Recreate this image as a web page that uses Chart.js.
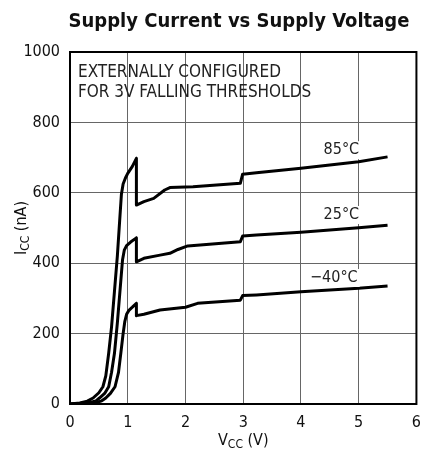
<!DOCTYPE html>
<html>
<head>
<meta charset="utf-8">
<script src="https://cdn.jsdelivr.net/npm/chart.js@4"></script>
<style>
  body { margin: 0; background: #fff; }
  #wrap { width: 430px; height: 462px; }
</style>
</head>
<body>
<div id="wrap"><canvas id="chart" width="430" height="462"></canvas></div>
<script>
// supply voltage (V) and supply current (nA)
const v85 = [0, 0.17, 0.30, 0.40, 0.50, 0.57, 0.62, 0.67, 0.72, 0.77, 0.82, 0.86, 0.89, 0.92, 0.96, 1.0, 1.08, 1.15, 1.15, 1.28, 1.45, 1.64, 1.73, 2.13, 2.95, 2.99, 3.23, 4.0, 5.0, 5.5];
const i85 = [0, 3, 8, 17, 32, 49, 80, 144, 220, 320, 420, 520, 595, 625, 642, 655, 675, 698, 565, 575, 584, 608, 615, 617, 627, 653, 657, 670, 688, 702];

const v25 = [0, 0.31, 0.45, 0.51, 0.60, 0.67, 0.72, 0.77, 0.82, 0.87, 0.91, 0.94, 0.98, 1.05, 1.15, 1.15, 1.28, 1.56, 1.73, 1.87, 2.04, 2.95, 2.99, 3.23, 4.0, 5.0, 5.5];
const i25 = [0, 3, 9, 17, 30, 49, 90, 144, 230, 330, 410, 437, 450, 460, 472, 404, 414, 423, 428, 439, 449, 461, 477, 480, 488, 501, 508];

const vM40 = [0, 0.43, 0.55, 0.62, 0.70, 0.78, 0.84, 0.88, 0.92, 0.95, 0.98, 1.02, 1.08, 1.15, 1.15, 1.28, 1.56, 1.84, 2.0, 2.21, 2.95, 2.99, 3.23, 4.0, 5.0, 5.5];
const iM40 = [0, 3, 9, 17, 30, 49, 90, 144, 200, 235, 255, 266, 275, 286, 251, 255, 267, 272, 275, 286, 295, 308, 310, 319, 329, 335];

const xTicks = [0, 1, 2, 3, 4, 5, 6];
const yTicks = [0, 200, 400, 600, 800, 1000];

const seriesNames = ["85°C", "25°C", "\u221240°C"];
const labelAt = [[4.7, 721], [4.7, 537], [4.57, 358]];
const noteLines = ["EXTERNALLY CONFIGURED", "FOR 3V FALLING THRESHOLDS"];

const FONT = "'Liberation Sans Narrow', 'DejaVu Sans Condensed', 'Liberation Sans', Arial, sans-serif";

function pts(xs, ys) {
  return xs.map((x, i) => ({ x: x, y: ys[i] }));
}

function lineSet(label, xs, ys) {
  return {
    label: label,
    data: pts(xs, ys),
    showLine: true,
    borderColor: "#000",
    borderWidth: 3,
    borderJoinStyle: "round",
    pointRadius: 0,
    tension: 0,
    fill: false,
  };
}

const textPlugin = {
  id: "texts",
  afterDraw(chart) {
    const c = chart.ctx;
    const xs = chart.scales.x;
    const ys = chart.scales.y;
    const area = chart.chartArea;
    c.save();
    c.fillStyle = "#111";

    // title
    c.font = "bold 20px " + FONT;
    c.textAlign = "center";
    c.textBaseline = "middle";
    c.fillText("Supply Current vs Supply Voltage", 239, 22);

    // note in upper left
    c.font = "17px " + FONT;
    c.textAlign = "left";
    c.fillStyle = "#222";
    c.fillText(noteLines[0], area.left + 8, 73);
    c.fillText(noteLines[1], area.left + 8, 93);

    // temperature labels
    c.font = "16px " + FONT;
    c.textAlign = "center";
    labelAt.forEach((p, i) => {
      const px = xs.getPixelForValue(p[0]);
      const py = ys.getPixelForValue(p[1]);
      const w = c.measureText(seriesNames[i]).width;
      c.fillStyle = "#fff";
      c.fillRect(px - w / 2 - 2, py - 9, w + 4, 18);
      c.fillStyle = "#222";
      c.fillText(seriesNames[i], px, py);
    });

    // x axis title: V_CC (V)
    c.fillStyle = "#111";
    c.textAlign = "left";
    let x0 = 218, y0 = 441;
    c.font = "16px " + FONT;
    c.fillText("V", x0, y0);
    let w = c.measureText("V").width;
    c.font = "12px " + FONT;
    c.fillText("CC", x0 + w, y0 + 4);
    let w2 = c.measureText("CC").width;
    c.font = "16px " + FONT;
    c.fillText(" (V)", x0 + w + w2, y0);

    // y axis title: I_CC (nA), rotated
    c.translate(22, 228);
    c.rotate(-Math.PI / 2);
    c.font = "16px " + FONT;
    let wa = c.measureText("I").width;
    c.font = "12px " + FONT;
    let wb = c.measureText("CC").width;
    c.font = "16px " + FONT;
    let wc = c.measureText(" (nA)").width;
    let start = -(wa + wb + wc) / 2;
    c.fillText("I", start, 0);
    c.font = "12px " + FONT;
    c.fillText("CC", start + wa, 4);
    c.font = "16px " + FONT;
    c.fillText(" (nA)", start + wa + wb, 0);
    c.restore();
  },
};

new Chart(document.getElementById("chart").getContext("2d"), {
  type: "scatter",
  data: {
    datasets: [
      lineSet(seriesNames[0], v85, i85),
      lineSet(seriesNames[1], v25, i25),
      lineSet(seriesNames[2], vM40, iM40),
    ],
  },
  options: {
    responsive: false,
    animation: false,
    layout: { padding: { top: 52, right: 7, left: 0, bottom: 0 } },
    plugins: {
      legend: { display: false },
      tooltip: { enabled: false },
      title: { display: false },
    },
    scales: {
      x: {
        type: "linear",
        min: 0,
        max: 6,
        afterBuildTicks: (s) => { s.ticks = xTicks.map((v) => ({ value: v })); },
        afterFit: (s) => { s.height = 58; },
        grid: { color: "#666", lineWidth: 1, drawTicks: false },
        border: { color: "#000", width: 2 },
        ticks: { color: "#111", padding: 9, font: { family: FONT, size: 16 }, callback: (v) => String(v) },
      },
      y: {
        type: "linear",
        min: 0,
        max: 1000,
        afterBuildTicks: (s) => { s.ticks = yTicks.map((v) => ({ value: v })); },
        afterFit: (s) => { s.width = 70; },
        grid: { color: "#666", lineWidth: 1, drawTicks: false },
        border: { color: "#000", width: 2 },
        ticks: { color: "#111", padding: 10, font: { family: FONT, size: 16 }, callback: (v) => String(v) },
      },
    },
  },
  plugins: [
    textPlugin,
    {
      id: "frame",
      afterDatasetsDraw(chart) {
        const a = chart.chartArea;
        const c = chart.ctx;
        c.save();
        c.strokeStyle = "#000";
        c.lineWidth = 2;
        c.strokeRect(a.left, a.top, a.right - a.left, a.bottom - a.top);
        c.restore();
      },
    },
  ],
});
</script>
</body>
</html>
